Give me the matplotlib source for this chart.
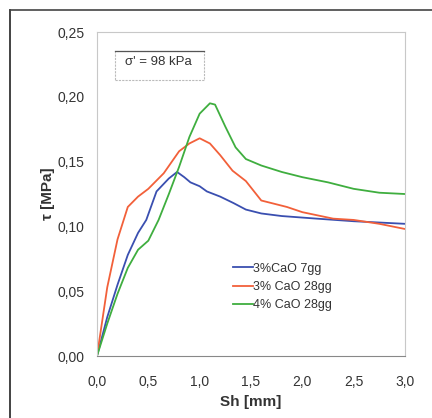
import matplotlib
matplotlib.use("Agg")
import matplotlib.pyplot as plt
from matplotlib.ticker import FuncFormatter, MultipleLocator
from matplotlib.lines import Line2D
from matplotlib.patches import Rectangle

plt.rcParams['font.family'] = ['Liberation Sans', 'DejaVu Sans']

# data
x_blue = [0.0, 0.1, 0.2, 0.3, 0.4, 0.48, 0.58, 0.7, 0.78, 0.85, 0.91, 1.0, 1.07, 1.2, 1.33, 1.45, 1.6, 1.8, 2.14, 2.5, 3.0]
y_blue = [0.0, 0.030, 0.055, 0.078, 0.095, 0.105, 0.127, 0.137, 0.142, 0.138, 0.134, 0.131, 0.127, 0.123, 0.118, 0.113, 0.110, 0.108, 0.106, 0.104, 0.102]

x_red = [0.0, 0.1, 0.2, 0.3, 0.4, 0.5, 0.65, 0.8, 0.9, 1.0, 1.1, 1.2, 1.32, 1.45, 1.6, 1.85, 2.0, 2.3, 2.5, 2.75, 3.0]
y_red = [0.0, 0.053, 0.090, 0.115, 0.123, 0.129, 0.141, 0.158, 0.164, 0.168, 0.164, 0.155, 0.143, 0.135, 0.120, 0.115, 0.111, 0.106, 0.105, 0.102, 0.098]

x_green = [0.0, 0.1, 0.2, 0.3, 0.4, 0.5, 0.6, 0.7, 0.8, 0.9, 1.0, 1.1, 1.15, 1.25, 1.35, 1.45, 1.6, 1.8, 2.0, 2.25, 2.5, 2.75, 3.0]
y_green = [0.0, 0.025, 0.048, 0.068, 0.082, 0.089, 0.105, 0.125, 0.146, 0.169, 0.187, 0.195, 0.194, 0.177, 0.161, 0.152, 0.147, 0.142, 0.138, 0.134, 0.129, 0.126, 0.125]

labels = ['3%CaO 7gg', '3% CaO 28gg', '4% CaO 28gg']
colors = ['#3a4fb0', '#f2603a', '#3fae3f']

fig = plt.figure(figsize=(4.32, 4.18), dpi=100)
ax = fig.add_axes([0.2245, 0.1483, 0.713, 0.7751])

for xs, ys, lab, c in zip([x_blue, x_red, x_green], [y_blue, y_red, y_green], labels, colors):
    ax.plot(xs, ys, color=c, lw=1.3, label=lab)

ax.set_xlim(0, 3.0)
ax.set_ylim(0, 0.25)
ax.xaxis.set_major_locator(MultipleLocator(0.5))
ax.yaxis.set_major_locator(MultipleLocator(0.05))
ax.xaxis.set_major_formatter(FuncFormatter(lambda v, p: f"{v:.1f}".replace('.', ',')))
ax.yaxis.set_major_formatter(FuncFormatter(lambda v, p: f"{v:.2f}".replace('.', ',')))
ax.tick_params(length=0, labelsize=10, labelcolor='#333333')
ax.tick_params(axis='y', pad=9)
ax.tick_params(axis='x', pad=14)
for s in ax.spines.values():
    s.set_color('#c8c8c8')
    s.set_linestyle((0, (2, 1)))
    s.set_linewidth(0.8)
ax.spines['bottom'].set_color('#888888')

ax.set_xlabel('Sh [mm]', fontsize=11, fontweight='bold', color='#333333', labelpad=4)
ax.set_ylabel('τ [MPa]', fontsize=11, fontweight='bold', color='#333333', labelpad=2)

leg = ax.legend(loc='upper left', bbox_to_anchor=(0.44, 0.288), frameon=False,
                fontsize=9, handlelength=1.6, handletextpad=0.05, labelspacing=0.5,
                labelcolor='#333333', borderaxespad=0, borderpad=0)

ax.add_patch(Rectangle((0.175, 0.213), 0.867, 0.0223, fill=False, ec='#bbbbbb', lw=0.8,
                       ls=(0, (2, 1))))
ax.plot([0.175, 1.042], [0.2353, 0.2353], color='#555555', lw=0.9)
ax.text(0.594, 0.2268, "σ' = 98 kPa", fontsize=9.5, color='#333333', va='center', ha='center')

# outer frame
fig.add_artist(Line2D([10/432, 10/432], [0, 1 - 10/418], transform=fig.transFigure, color='#222222', lw=1.2))
fig.add_artist(Line2D([10/432, 1], [1 - 10/418, 1 - 10/418], transform=fig.transFigure, color='#444444', lw=1.2))

fig.savefig('out.png', dpi=100)
